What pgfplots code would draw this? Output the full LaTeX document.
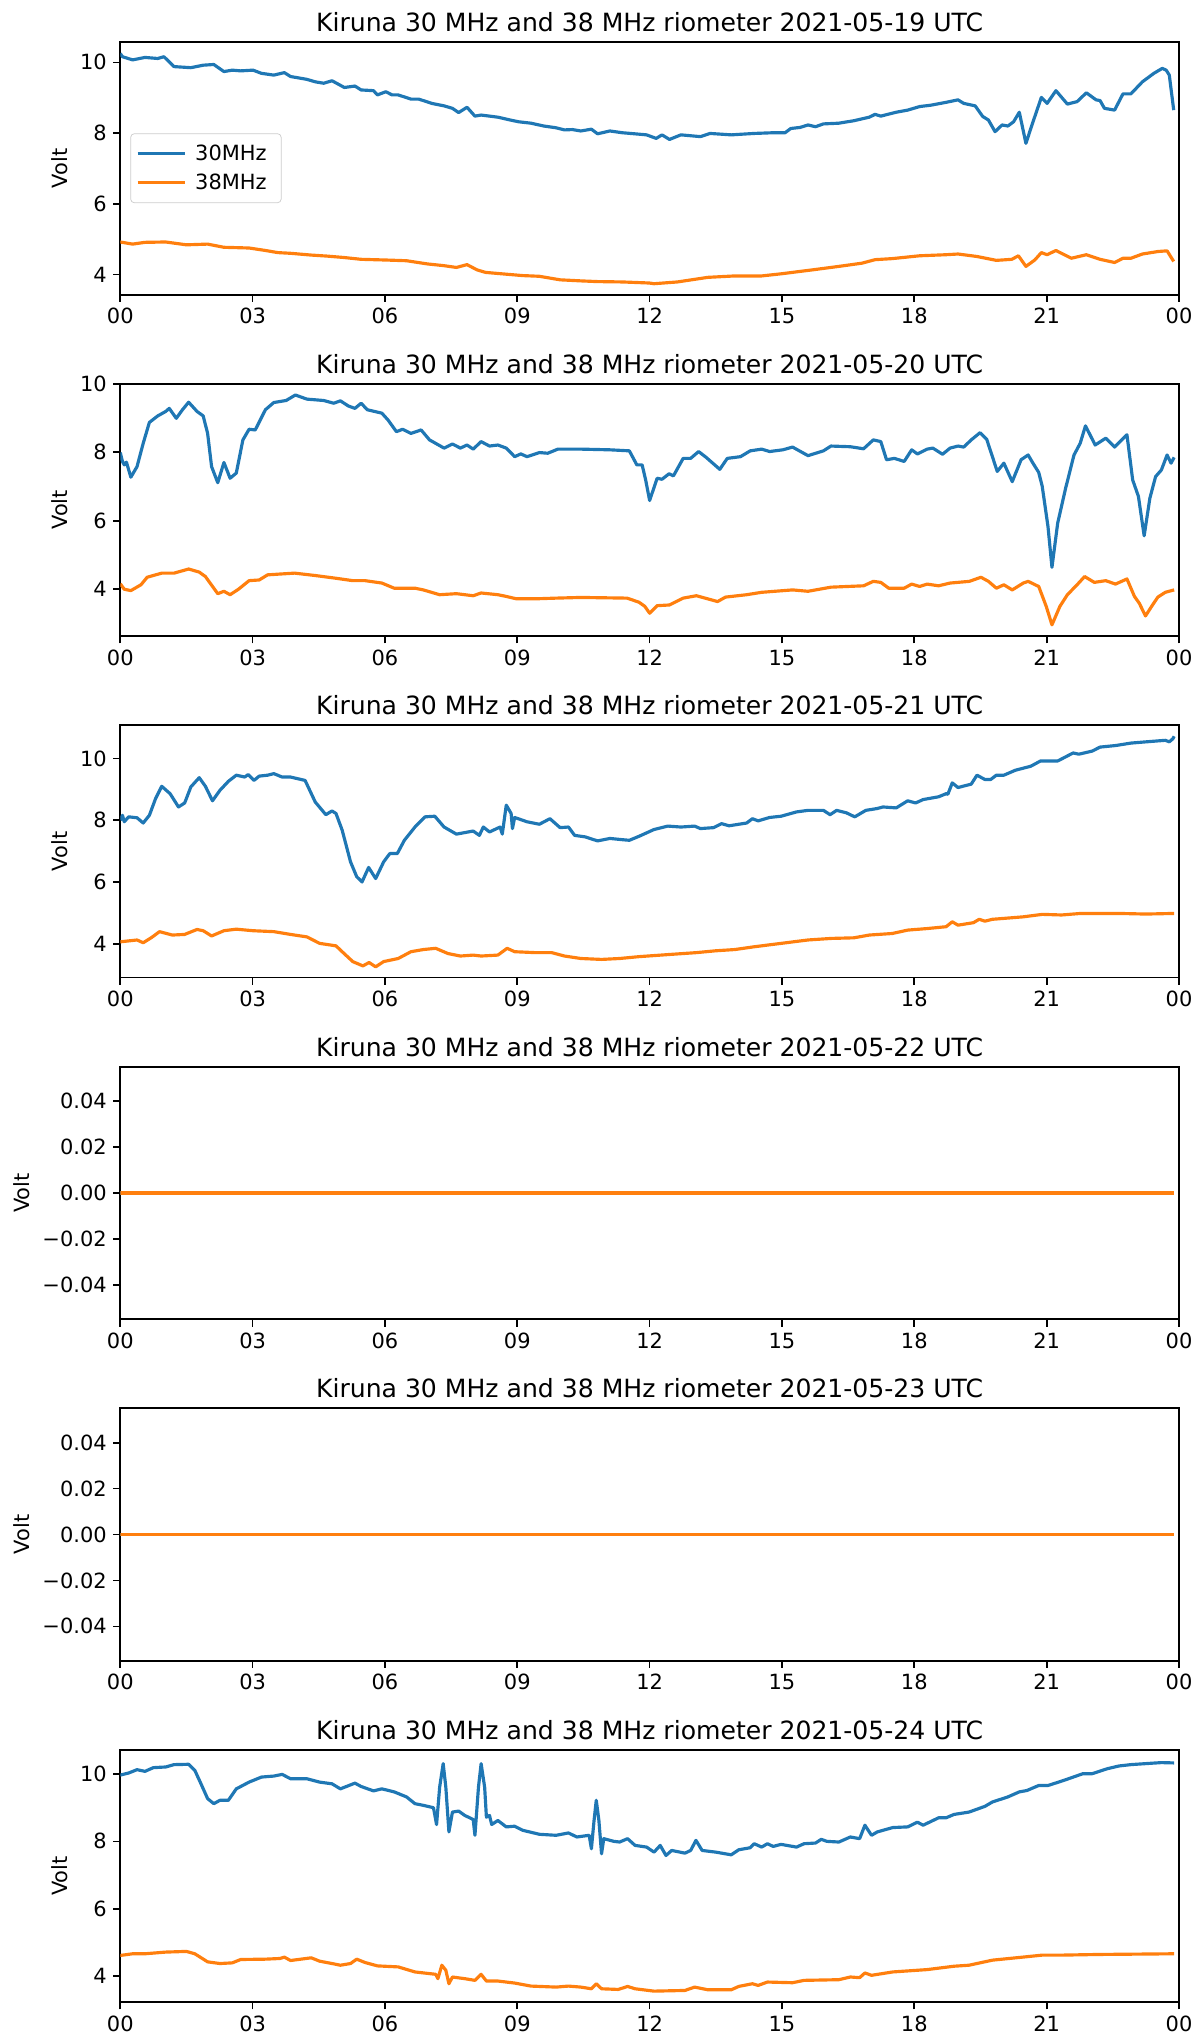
\documentclass[border=0pt]{standalone}
\usepackage{pgfplots}
\pgfplotsset{compat=1.18}
\usepackage{fontspec}
\setmainfont{DejaVu Sans}
\definecolor{mplblue}{HTML}{1F77B4}
\definecolor{mplorange}{HTML}{FF7F0E}
\pgfplotsset{
 riom/.style={
  scale only axis, width=586.3pt, height=139.8pt, anchor=south west,
  xmin=0, xmax=24, xtick={0,3,...,24}, xticklabels={00,03,06,09,12,15,18,21,00},
  tick align=outside, xtick pos=bottom, ytick pos=left, major tick length=4pt,
  tick style={black, line width=0.93pt}, axis line style={line width=0.93pt},
  ticklabel style={font=\fontsize{11.6}{13}\selectfont},
  /pgf/number format/assume math mode=true, scaled y ticks=false,
  title style={font=\fontsize{13.9}{16}\selectfont, yshift=-4pt},
  ylabel={Volt}, ylabel style={font=\fontsize{11.6}{13}\selectfont},
  every axis plot/.append style={line width=1.75pt, line join=round, no markers},
 }
}
\begin{document}
\begin{tikzpicture}
\useasboundingbox (0,0) rectangle (666.2pt,1128.6pt);
% ---------- 2021-05-19
\begin{axis}[riom, at={(66.6pt,965.4pt)}, ymin=3.43, ymax=10.57, ytick={4,6,8,10},
  title={Kiruna 30 MHz and 38 MHz riometer 2021-05-19 UTC},
  legend style={at={(0.0095,0.639)}, anchor=north west, draw=black!20, rounded corners=2pt,
    font=\fontsize{11.6}{13}\selectfont, row sep=2pt, inner xsep=3pt, inner ysep=4pt,
    nodes={inner xsep=5pt}},
  legend cell align=left,
  legend image code/.code={\draw[#1] (0pt,0pt) -- (26pt,0pt);}]
\addplot[mplblue] coordinates {(0,10.25)(0.05,10.16)(0.28,10.07)(0.56,10.14)(0.85,10.11)(0.99,10.16)(1.22,9.88)(1.6,9.85)(1.88,9.92)(2.12,9.94)(2.35,9.74)(2.54,9.78)(2.73,9.76)(3.01,9.78)(3.2,9.69)(3.48,9.64)(3.72,9.71)(3.86,9.6)(4.23,9.52)(4.42,9.45)(4.61,9.41)(4.8,9.48)(5.08,9.29)(5.32,9.33)(5.46,9.22)(5.74,9.2)(5.83,9.08)(6.02,9.17)(6.16,9.08)(6.3,9.08)(6.59,8.96)(6.77,8.96)(7.06,8.84)(7.34,8.77)(7.53,8.7)(7.67,8.58)(7.86,8.73)(8.04,8.48)(8.18,8.51)(8.56,8.45)(8.84,8.37)(9.03,8.32)(9.31,8.28)(9.6,8.2)(9.88,8.15)(10.07,8.09)(10.25,8.1)(10.44,8.06)(10.68,8.11)(10.82,7.98)(11.1,8.06)(11.38,8.01)(11.66,7.98)(11.93,7.95)(12.15,7.85)(12.28,7.95)(12.45,7.82)(12.71,7.95)(13.15,7.9)(13.37,7.99)(13.85,7.95)(14.37,7.99)(14.8,8.01)(15.07,8.01)(15.2,8.13)(15.41,8.16)(15.59,8.23)(15.76,8.18)(15.94,8.26)(16.29,8.28)(16.63,8.35)(16.98,8.45)(17.11,8.53)(17.24,8.48)(17.59,8.59)(17.85,8.65)(18.12,8.75)(18.38,8.79)(18.72,8.87)(18.99,8.94)(19.12,8.84)(19.38,8.77)(19.55,8.47)(19.68,8.37)(19.83,8.04)(19.99,8.23)(20.12,8.2)(20.25,8.32)(20.38,8.59)(20.53,7.71)(20.68,8.28)(20.88,9.01)(21.01,8.84)(21.21,9.2)(21.47,8.82)(21.69,8.89)(21.9,9.14)(22.12,8.94)(22.21,8.92)(22.31,8.7)(22.54,8.65)(22.73,9.11)(22.91,9.11)(23.17,9.45)(23.43,9.69)(23.62,9.83)(23.71,9.78)(23.78,9.64)(23.88,8.65)};
\addlegendentry{30MHz}
\addplot[mplorange] coordinates {(0,4.92)(0.28,4.86)(0.56,4.91)(1.03,4.92)(1.5,4.84)(1.98,4.86)(2.35,4.77)(2.92,4.75)(3.29,4.68)(3.57,4.62)(3.86,4.6)(4.33,4.55)(4.7,4.52)(5.08,4.48)(5.46,4.43)(6.02,4.41)(6.49,4.39)(6.96,4.3)(7.34,4.25)(7.62,4.2)(7.86,4.28)(8.09,4.13)(8.28,4.06)(8.65,4.02)(9.12,3.97)(9.5,3.95)(9.97,3.85)(10.44,3.82)(10.82,3.8)(11.38,3.79)(11.99,3.76)(12.1,3.74)(12.63,3.79)(13.32,3.92)(13.93,3.96)(14.54,3.96)(14.98,4.02)(15.68,4.13)(16.29,4.23)(16.81,4.32)(17.11,4.42)(17.5,4.45)(18.12,4.53)(18.72,4.56)(18.99,4.58)(19.42,4.51)(19.86,4.4)(20.21,4.43)(20.36,4.53)(20.53,4.23)(20.73,4.41)(20.88,4.62)(21.01,4.56)(21.21,4.68)(21.56,4.46)(21.9,4.56)(22.21,4.43)(22.54,4.34)(22.73,4.46)(22.91,4.46)(23.17,4.58)(23.52,4.65)(23.73,4.67)(23.88,4.37)};
\addlegendentry{38MHz}
\end{axis}
% ---------- 2021-05-20
\begin{axis}[riom, at={(66.6pt,776.3pt)}, ymin=2.63, ymax=10.0, ytick={4,6,8,10},
  title={Kiruna 30 MHz and 38 MHz riometer 2021-05-20 UTC}]
\addplot[mplblue] coordinates {(0,7.99)(0.05,7.73)(0.09,7.63)(0.14,7.71)(0.24,7.27)(0.38,7.58)(0.52,8.26)(0.66,8.87)(0.85,9.06)(1.03,9.19)(1.11,9.28)(1.27,8.99)(1.41,9.24)(1.55,9.46)(1.74,9.19)(1.88,9.06)(1.98,8.55)(2.07,7.58)(2.21,7.11)(2.35,7.7)(2.49,7.24)(2.63,7.39)(2.78,8.36)(2.92,8.67)(3.06,8.65)(3.29,9.24)(3.48,9.45)(3.76,9.51)(3.97,9.67)(4.23,9.55)(4.61,9.51)(4.84,9.43)(4.99,9.5)(5.17,9.35)(5.32,9.28)(5.46,9.43)(5.6,9.24)(5.93,9.14)(6.07,8.94)(6.26,8.6)(6.4,8.67)(6.59,8.55)(6.82,8.65)(7.01,8.36)(7.34,8.12)(7.53,8.24)(7.71,8.12)(7.86,8.21)(8,8.09)(8.18,8.31)(8.37,8.18)(8.56,8.21)(8.75,8.12)(8.94,7.87)(9.08,7.95)(9.22,7.87)(9.5,7.99)(9.69,7.97)(9.92,8.09)(10.44,8.09)(11.1,8.07)(11.54,8.04)(11.71,7.63)(11.83,7.63)(11.91,7.19)(12,6.59)(12.17,7.24)(12.28,7.21)(12.44,7.37)(12.54,7.31)(12.76,7.82)(12.93,7.82)(13.11,8.02)(13.28,7.85)(13.59,7.5)(13.76,7.82)(14.06,7.87)(14.28,8.04)(14.54,8.09)(14.72,8.02)(15.02,8.07)(15.24,8.15)(15.59,7.9)(15.94,8.04)(16.11,8.18)(16.55,8.16)(16.85,8.1)(17.07,8.36)(17.24,8.31)(17.37,7.78)(17.55,7.82)(17.77,7.73)(17.94,8.07)(18.07,7.95)(18.29,8.09)(18.42,8.12)(18.64,7.94)(18.81,8.12)(18.99,8.18)(19.12,8.15)(19.29,8.36)(19.49,8.57)(19.64,8.38)(19.77,7.87)(19.88,7.44)(20.03,7.68)(20.22,7.14)(20.42,7.78)(20.58,7.92)(20.68,7.7)(20.82,7.41)(20.9,7.0)(21.03,5.83)(21.12,4.64)(21.25,5.93)(21.43,6.95)(21.62,7.92)(21.76,8.26)(21.88,8.77)(22.1,8.21)(22.34,8.41)(22.54,8.15)(22.82,8.51)(22.95,7.19)(23.08,6.71)(23.21,5.56)(23.34,6.66)(23.47,7.29)(23.6,7.48)(23.73,7.92)(23.82,7.68)(23.89,7.85)};
\addplot[mplorange] coordinates {(0,4.16)(0.09,4.0)(0.24,3.96)(0.47,4.13)(0.61,4.35)(0.94,4.47)(1.22,4.47)(1.55,4.59)(1.79,4.5)(1.93,4.37)(2.21,3.87)(2.35,3.94)(2.49,3.84)(2.68,4.0)(2.92,4.25)(3.15,4.27)(3.34,4.42)(3.95,4.47)(4.42,4.4)(4.89,4.32)(5.27,4.25)(5.55,4.25)(5.93,4.18)(6.21,4.03)(6.68,4.03)(6.87,3.98)(7.24,3.84)(7.62,3.87)(8,3.81)(8.18,3.89)(8.56,3.84)(8.75,3.79)(8.98,3.72)(9.41,3.72)(9.88,3.74)(10.44,3.76)(11.49,3.74)(11.76,3.62)(11.89,3.5)(12,3.3)(12.17,3.52)(12.45,3.54)(12.76,3.74)(13.06,3.81)(13.54,3.64)(13.72,3.77)(14.2,3.84)(14.54,3.91)(15.24,3.98)(15.59,3.94)(16.11,4.06)(16.85,4.1)(17.07,4.23)(17.24,4.2)(17.42,4.03)(17.77,4.03)(17.94,4.15)(18.12,4.08)(18.29,4.15)(18.55,4.1)(18.81,4.18)(19.25,4.23)(19.51,4.35)(19.68,4.23)(19.86,4.03)(20.03,4.13)(20.22,3.98)(20.47,4.18)(20.58,4.23)(20.82,4.08)(20.99,3.5)(21.12,2.96)(21.3,3.5)(21.47,3.84)(21.69,4.13)(21.86,4.37)(22.08,4.2)(22.34,4.25)(22.56,4.15)(22.82,4.3)(22.99,3.79)(23.1,3.59)(23.24,3.22)(23.38,3.5)(23.52,3.77)(23.69,3.91)(23.89,3.98)};
\end{axis}
% ---------- 2021-05-21
\begin{axis}[riom, at={(66.6pt,587.2pt)}, ymin=2.90, ymax=11.08, ytick={4,6,8,10},
  title={Kiruna 30 MHz and 38 MHz riometer 2021-05-21 UTC}]
\addplot[mplblue] coordinates {(0,8.0)(0.05,8.16)(0.09,7.95)(0.19,8.11)(0.38,8.08)(0.52,7.91)(0.66,8.16)(0.8,8.7)(0.94,9.1)(1.13,8.86)(1.32,8.43)(1.46,8.56)(1.6,9.08)(1.79,9.38)(1.93,9.1)(2.09,8.63)(2.26,8.97)(2.45,9.26)(2.63,9.46)(2.82,9.4)(2.9,9.48)(3.03,9.29)(3.15,9.43)(3.34,9.46)(3.48,9.51)(3.67,9.4)(3.86,9.4)(4.19,9.29)(4.42,8.59)(4.66,8.18)(4.8,8.3)(4.89,8.22)(5.03,7.68)(5.22,6.65)(5.36,6.17)(5.48,6.0)(5.63,6.47)(5.79,6.11)(5.97,6.65)(6.11,6.92)(6.28,6.92)(6.44,7.35)(6.68,7.78)(6.91,8.11)(7.13,8.13)(7.34,7.78)(7.62,7.55)(8,7.65)(8.14,7.51)(8.23,7.78)(8.37,7.62)(8.61,7.78)(8.66,7.55)(8.75,8.49)(8.86,8.22)(8.89,7.73)(8.94,8.09)(9.22,7.95)(9.5,7.87)(9.74,8.05)(9.97,7.76)(10.16,7.78)(10.3,7.51)(10.54,7.46)(10.82,7.33)(11.1,7.41)(11.38,7.37)(11.54,7.35)(11.76,7.48)(12.1,7.7)(12.41,7.81)(12.71,7.78)(13.02,7.81)(13.15,7.73)(13.45,7.76)(13.63,7.89)(13.8,7.82)(14.2,7.91)(14.33,8.05)(14.46,7.98)(14.72,8.09)(14.98,8.13)(15.33,8.27)(15.59,8.32)(15.94,8.32)(16.09,8.18)(16.24,8.32)(16.46,8.24)(16.65,8.11)(16.9,8.32)(17.16,8.38)(17.29,8.43)(17.59,8.4)(17.85,8.63)(18.03,8.56)(18.2,8.67)(18.55,8.76)(18.72,8.86)(18.76,8.84)(18.86,9.21)(18.99,9.06)(19.29,9.17)(19.42,9.46)(19.6,9.32)(19.73,9.32)(19.86,9.46)(20.03,9.46)(20.29,9.62)(20.64,9.75)(20.86,9.92)(21.25,9.92)(21.6,10.18)(21.73,10.14)(22.03,10.24)(22.21,10.37)(22.56,10.42)(22.91,10.5)(23.25,10.54)(23.69,10.59)(23.78,10.54)(23.86,10.64)(23.89,10.72)};
\addplot[mplorange] coordinates {(0,4.06)(0.38,4.12)(0.52,4.03)(0.71,4.2)(0.89,4.39)(1.18,4.28)(1.46,4.3)(1.74,4.46)(1.88,4.42)(2.07,4.25)(2.35,4.42)(2.63,4.47)(3.01,4.42)(3.48,4.39)(3.86,4.3)(4.23,4.22)(4.52,4.01)(4.89,3.93)(5.03,3.74)(5.27,3.42)(5.5,3.28)(5.64,3.39)(5.79,3.25)(5.97,3.42)(6.3,3.52)(6.59,3.74)(6.87,3.81)(7.15,3.85)(7.43,3.68)(7.71,3.6)(8,3.63)(8.18,3.6)(8.56,3.63)(8.77,3.85)(8.94,3.74)(9.41,3.71)(9.78,3.71)(10.07,3.6)(10.44,3.52)(10.91,3.49)(11.32,3.52)(11.76,3.58)(12.45,3.65)(13.06,3.71)(13.5,3.77)(13.93,3.81)(14.37,3.9)(14.98,4.01)(15.59,4.12)(16.11,4.17)(16.63,4.19)(16.98,4.28)(17.5,4.33)(17.85,4.44)(18.29,4.49)(18.72,4.55)(18.86,4.71)(18.99,4.6)(19.34,4.68)(19.47,4.79)(19.6,4.73)(19.77,4.79)(20.47,4.87)(20.9,4.95)(21.34,4.93)(21.77,4.98)(22.64,4.98)(23.25,4.96)(23.89,4.98)};
\end{axis}
% ---------- 2021-05-22
\begin{axis}[riom, at={(66.6pt,398.0pt)}, ymin=-0.055, ymax=0.055,
  ytick={-0.04,-0.02,0,0.02,0.04}, yticklabels={−0.04,−0.02,0.00,0.02,0.04},
  title={Kiruna 30 MHz and 38 MHz riometer 2021-05-22 UTC}]
\addplot[mplblue] coordinates {(0,0)(23.88,0)};
\addplot[mplorange] coordinates {(0,0)(23.88,0)};
\end{axis}
% ---------- 2021-05-23
\begin{axis}[riom, at={(66.6pt,208.9pt)}, ymin=-0.055, ymax=0.055,
  ytick={-0.04,-0.02,0,0.02,0.04}, yticklabels={−0.04,−0.02,0.00,0.02,0.04},
  title={Kiruna 30 MHz and 38 MHz riometer 2021-05-23 UTC}]
\addplot[mplblue] coordinates {(0,0)(23.88,0)};
\addplot[mplorange] coordinates {(0,0)(23.88,0)};
\end{axis}
% ---------- 2021-05-24
\begin{axis}[riom, at={(66.6pt,19.8pt)}, ymin=3.22, ymax=10.72, ytick={4,6,8,10},
  title={Kiruna 30 MHz and 38 MHz riometer 2021-05-24 UTC}]
\addplot[mplblue] coordinates {(0,9.97)(0.19,10.03)(0.38,10.13)(0.56,10.08)(0.75,10.19)(1.03,10.21)(1.22,10.28)(1.55,10.29)(1.69,10.11)(1.83,9.71)(1.98,9.27)(2.12,9.12)(2.26,9.22)(2.45,9.22)(2.63,9.56)(2.92,9.76)(3.2,9.91)(3.48,9.94)(3.67,9.99)(3.86,9.86)(4.23,9.86)(4.52,9.76)(4.8,9.71)(4.99,9.56)(5.32,9.73)(5.46,9.63)(5.74,9.5)(5.93,9.56)(6.21,9.47)(6.49,9.32)(6.68,9.12)(6.87,9.07)(7.1,9.0)(7.17,8.5)(7.24,9.61)(7.32,10.31)(7.38,9.61)(7.45,8.28)(7.53,8.87)(7.67,8.9)(7.81,8.77)(8,8.65)(8.04,8.18)(8.12,9.61)(8.18,10.31)(8.26,9.61)(8.3,8.72)(8.37,8.77)(8.42,8.5)(8.56,8.62)(8.75,8.43)(8.94,8.45)(9.12,8.33)(9.5,8.21)(9.88,8.18)(10.16,8.25)(10.35,8.13)(10.63,8.18)(10.68,7.78)(10.74,8.62)(10.79,9.22)(10.85,8.62)(10.91,7.63)(10.96,8.08)(11.19,8.0)(11.32,7.98)(11.5,8.08)(11.67,7.88)(11.93,7.83)(12.1,7.68)(12.24,7.88)(12.37,7.58)(12.5,7.73)(12.8,7.65)(12.93,7.73)(13.05,8.03)(13.19,7.73)(13.5,7.68)(13.85,7.6)(14.02,7.75)(14.28,7.81)(14.37,7.93)(14.54,7.83)(14.67,7.93)(14.8,7.85)(14.98,7.91)(15.33,7.83)(15.5,7.93)(15.76,7.95)(15.89,8.06)(16.02,8.0)(16.29,7.98)(16.55,8.13)(16.76,8.08)(16.88,8.48)(17.03,8.18)(17.16,8.28)(17.51,8.41)(17.85,8.43)(18.07,8.57)(18.2,8.48)(18.55,8.7)(18.72,8.7)(18.9,8.8)(19.24,8.87)(19.6,9.04)(19.77,9.17)(20.12,9.32)(20.38,9.47)(20.55,9.51)(20.82,9.66)(21.03,9.66)(21.34,9.79)(21.56,9.89)(21.82,10.01)(22.03,10.01)(22.38,10.16)(22.64,10.24)(22.91,10.28)(23.25,10.31)(23.6,10.34)(23.89,10.33)};
\addplot[mplorange] coordinates {(0,4.61)(0.28,4.66)(0.56,4.66)(1.03,4.71)(1.5,4.73)(1.69,4.66)(1.98,4.42)(2.26,4.37)(2.54,4.39)(2.73,4.49)(3.29,4.5)(3.62,4.52)(3.72,4.56)(3.86,4.46)(4.33,4.54)(4.52,4.44)(4.8,4.37)(4.99,4.32)(5.22,4.37)(5.36,4.5)(5.55,4.4)(5.83,4.3)(6.3,4.27)(6.68,4.12)(7.15,4.05)(7.2,3.92)(7.29,4.32)(7.38,4.17)(7.45,3.77)(7.53,3.97)(7.81,3.92)(8.04,3.87)(8.18,4.05)(8.3,3.85)(8.56,3.85)(8.94,3.79)(9.31,3.7)(9.88,3.67)(10.16,3.7)(10.44,3.67)(10.68,3.62)(10.79,3.77)(10.91,3.62)(11.29,3.6)(11.5,3.69)(11.67,3.62)(12.1,3.55)(12.8,3.57)(13.02,3.67)(13.32,3.59)(13.85,3.59)(14.02,3.69)(14.33,3.77)(14.46,3.72)(14.67,3.82)(15.24,3.8)(15.5,3.87)(16.29,3.89)(16.55,3.97)(16.76,3.95)(16.88,4.09)(17.03,4.02)(17.51,4.12)(18.29,4.19)(18.9,4.29)(19.24,4.32)(19.77,4.47)(20.38,4.55)(20.9,4.62)(21.34,4.62)(22.21,4.64)(23.08,4.65)(23.89,4.66)};
\end{axis}
\end{tikzpicture}
\end{document}
